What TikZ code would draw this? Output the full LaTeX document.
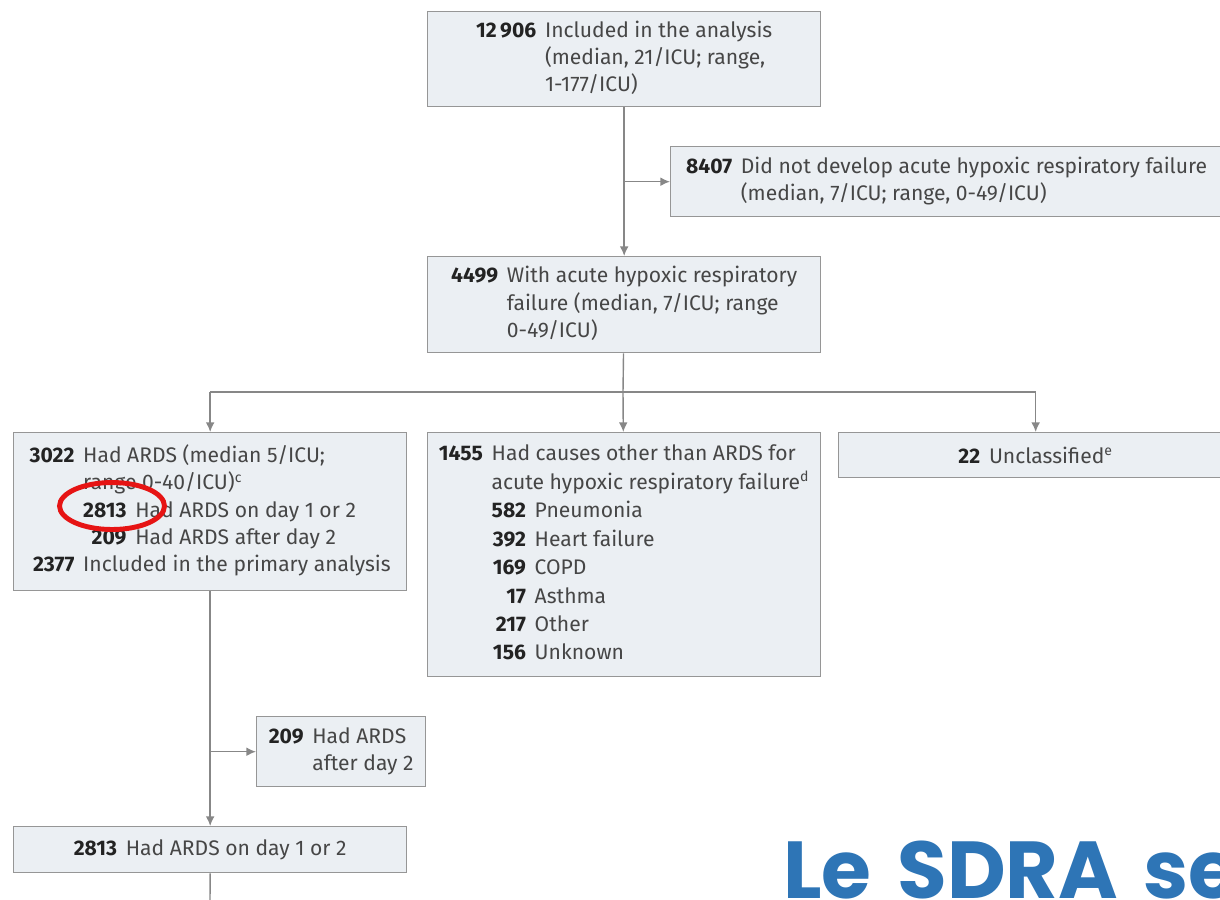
\documentclass[tikz,border=0pt]{standalone}
\usepackage{fontspec}
\setmainfont{Fira Sans}
\newfontfamily\slidefont{Poppins}[WordSpace=1.5]
\usetikzlibrary{arrows.meta, positioning, shapes.geometric}
\definecolor{boxfill}{RGB}{235, 239, 243}
\definecolor{boxline}{RGB}{150, 150, 150}
\definecolor{flow}{RGB}{135, 135, 135}
\definecolor{bodytext}{RGB}{70, 70, 70}
\definecolor{numtext}{RGB}{35, 35, 35}
\definecolor{slideblue}{RGB}{46, 117, 182}
\definecolor{markred}{RGB}{230, 20, 20}
\tikzstyle{flowbox} = [rectangle, anchor=north west, draw=boxline, fill=boxfill, line width=0.8pt, text centered, inner sep=0pt, text=bodytext, font=\fontsize{12}{15.5}\selectfont]
\tikzstyle{arrow} = [draw=flow, line width=0.8pt, -{Latex[length=5.5pt,width=5pt]}]
\tikzstyle{line} = [draw=flow, line width=0.8pt]
\newcommand{\cnt}[1]{\textbf{\color{numtext}#1}}
\newcommand{\gap}{@{\hspace{5pt}}}

\begin{document}
\begin{tikzpicture}[x=0.02cm, y=-0.02cm]
    \useasboundingbox (0,0) rectangle (1220,899);

    % Included
    \node[flowbox, minimum width=7.86cm, minimum height=1.9cm] (total) at (427,11)
        {\begin{tabular}{@{}r\gap l@{}}
         \cnt{12\,906} & Included in the analysis\\
         & (median, 21/ICU; range,\\
         & 1-177/ICU)
         \end{tabular}};

    % Excluded
    \node[flowbox, minimum width=11.04cm, minimum height=1.4cm] (excl) at (670,146)
        {\begin{tabular}{@{}r\gap l@{}}
         \cnt{8407} & Did not develop acute hypoxic respiratory failure\\
         & (median, 7/ICU; range, 0-49/ICU)
         \end{tabular}};

    % AHRF
    \node[flowbox, minimum width=7.86cm, minimum height=1.92cm] (ahrf) at (427,256)
        {\begin{tabular}{@{}r\gap l@{}}
         \cnt{4499} & With acute hypoxic respiratory\\
         & failure (median, 7/ICU; range\\
         & 0-49/ICU)
         \end{tabular}};

    % ARDS
    \node[flowbox, minimum width=7.86cm, minimum height=3.16cm] (ards) at (13,432)
        {\begin{tabular}{@{}r\gap l@{}}
         \cnt{3022} & Had ARDS (median 5/ICU;\\
         & range 0-40/ICU)\textsuperscript{c}\\
         & \begin{tabular}{@{}r\gap l@{}}
           \cnt{2813} & Had ARDS on day 1 or 2\\
           \cnt{209} & Had ARDS after day 2
           \end{tabular}\\
         \cnt{2377} & Included in the primary analysis
         \end{tabular}};

    % Other causes
    \node[flowbox, minimum width=7.86cm, minimum height=4.88cm, font=\fontsize{12}{16.2}\selectfont] (other) at (427,432)
        {\begin{tabular}{@{}r\gap l@{}}
         \cnt{1455} & Had causes other than ARDS for\\
         & acute hypoxic respiratory failure\textsuperscript{d}\\
         & \begin{tabular}{@{}r\gap l@{}}
           \cnt{582} & Pneumonia\\
           \cnt{392} & Heart failure\\
           \cnt{169} & COPD\\
           \cnt{17} & Asthma\\
           \cnt{217} & Other\\
           \cnt{156} & Unknown
           \end{tabular}
         \end{tabular}};

    % Unclassified
    \node[flowbox, minimum width=7.88cm, minimum height=0.9cm] (unclass) at (838,432)
        {\cnt{22}\hspace{5pt}Unclassified\textsuperscript{e}};

    % Late ARDS
    \node[flowbox, minimum width=3.38cm, minimum height=1.4cm] (late) at (256,716)
        {\begin{tabular}{@{}r\gap l@{}}
         \cnt{209} & Had ARDS\\
         & after day 2
         \end{tabular}};

    % Early ARDS
    \node[flowbox, minimum width=7.86cm, minimum height=0.92cm] (early) at (13,826)
        {\cnt{2813}\hspace{5pt}Had ARDS on day 1 or 2};

    % Connections
    \coordinate (split) at (623,392);
    \coordinate (cont) at (210,910);
    \draw[arrow] (total) -- (ahrf);
    \draw[arrow] (total.south |- excl.west) -- (excl.west);
    \draw[line] (ahrf) -- (split);
    \draw[line] (ards.north |- split) -- (unclass.north |- split);
    \draw[arrow] (ards.north |- split) -- (ards);
    \draw[arrow] (split) -- (other);
    \draw[arrow] (unclass.north |- split) -- (unclass);
    \draw[arrow] (ards) -- (early);
    \draw[arrow] (ards.south |- late.west) -- (late.west);
    \draw[line] (early) -- (cont);

    % Highlight
    \draw[markred, line width=2.8pt] (112,506) ellipse [x radius=1.05cm, y radius=0.47cm];

    % Slide title
    \node[anchor=base west, inner sep=0pt, text=slideblue, font=\slidefont\bfseries\fontsize{46}{52}\selectfont] (slidetitle) at (783,898) {Le SDRA se};
\end{tikzpicture}
\end{document}
